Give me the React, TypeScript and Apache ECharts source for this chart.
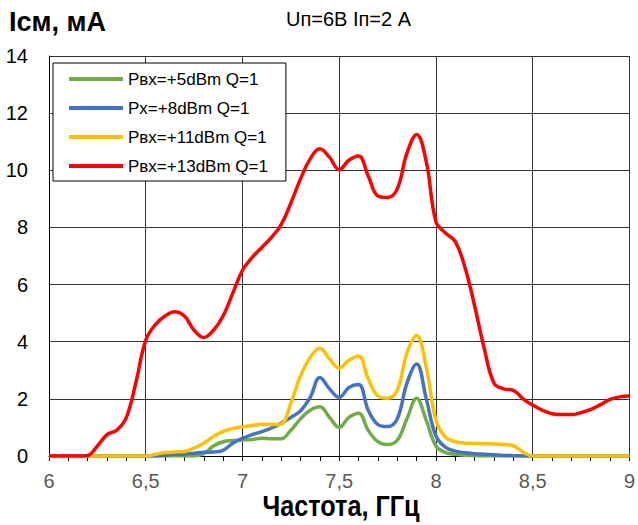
import React, { useEffect, useRef } from "react";
import * as echarts from "echarts";

const freqs: number[] = [
  6.0, 6.05, 6.1, 6.15, 6.2, 6.25, 6.3, 6.35, 6.4, 6.45,
  6.5, 6.55, 6.6, 6.65, 6.7, 6.75, 6.8, 6.85, 6.9, 6.95,
  7.0, 7.05, 7.1, 7.15, 7.2, 7.25, 7.3, 7.35, 7.4, 7.45,
  7.5, 7.55, 7.6, 7.65, 7.7, 7.75, 7.8, 7.85, 7.9, 7.95,
  8.0, 8.05, 8.1, 8.15, 8.2, 8.25, 8.3, 8.35, 8.4, 8.45,
  8.5, 8.55, 8.6, 8.65, 8.7, 8.75, 8.8, 8.85, 8.9, 8.95, 9.0,
];

const green5: number[] = [
  0, 0, 0, 0, 0, 0, 0, 0, 0, 0,
  0, 0, 0, 0, 0, 0, 0.08, 0.35, 0.5, 0.54,
  0.56, 0.58, 0.62, 0.6, 0.6, 0.9, 1.3, 1.6, 1.72, 1.35,
  1.0, 1.35, 1.5, 0.9, 0.5, 0.4, 0.55, 1.3, 2.02, 1.25,
  0.35, 0.12, 0.06, 0.03, 0.01, 0, 0, 0, 0, 0,
  0, 0, 0, 0, 0, 0, 0, 0, 0, 0, 0,
];

const blue8: number[] = [
  0, 0, 0, 0, 0, 0, 0, 0, 0, 0,
  0, 0, 0.03, 0.06, 0.07, 0.1, 0.13, 0.14, 0.2, 0.45,
  0.62, 0.75, 0.85, 0.98, 1.15, 1.35, 1.58, 2.05, 2.75, 2.35,
  2.05, 2.4, 2.5, 1.6, 1.1, 1.03, 1.3, 2.55, 3.22, 2.0,
  0.7, 0.3, 0.17, 0.11, 0.08, 0.06, 0.04, 0.02, 0.01, 0,
  0, 0, 0, 0, 0, 0, 0, 0, 0, 0, 0,
];

const yellow11: number[] = [
  0, 0, 0, 0, 0, 0, 0, 0, 0, 0,
  0, 0.06, 0.12, 0.14, 0.16, 0.28, 0.45, 0.68, 0.86, 0.96,
  1.02, 1.07, 1.11, 1.1, 1.12, 1.85, 2.8, 3.45, 3.77, 3.4,
  3.07, 3.35, 3.5, 2.7, 2.1, 2.02, 2.3, 3.6, 4.22, 3.1,
  1.25, 0.65, 0.5, 0.45, 0.44, 0.43, 0.42, 0.4, 0.36, 0.14,
  0, 0, 0, 0, 0, 0, 0, 0, 0, 0, 0,
];

const red13: number[] = [
  0, 0, 0, 0, 0.02, 0.35, 0.75, 0.9, 1.35, 2.6,
  4.05, 4.6, 4.9, 5.05, 4.9, 4.4, 4.15, 4.4, 4.9, 5.7,
  6.5, 6.95, 7.3, 7.65, 8.1, 8.85, 9.7, 10.4, 10.75, 10.45,
  10.02, 10.35, 10.5, 9.8, 9.1, 9.05, 9.35, 10.6, 11.25, 10.3,
  8.2, 7.8, 7.5, 6.6, 5.25, 3.75, 2.55, 2.35, 2.3, 2.0,
  1.78, 1.6, 1.48, 1.45, 1.45, 1.52, 1.63, 1.8, 1.98, 2.07, 2.1,
];

const seriesNames: string[] = [
  "Pвх=+5dBm Q=1",
  "Px=+8dBm Q=1",
  "Pвх=+11dBm Q=1",
  "Pвх=+13dBm Q=1",
];
const seriesColors: string[] = ["#70AD47", "#4472C4", "#FFC000", "#FF0000"];
const seriesValues: number[][] = [green5, blue8, yellow11, red13];

const yTitle = "Iсм, мА";
const chartTitle = "Uп=6В Iп=2 А";
const xTitle = "Частота, ГГц";

const FONT = "'Liberation Sans', Arial, sans-serif";
const NARROW = "'Liberation Sans Narrow', 'Arial Narrow', 'Liberation Sans', sans-serif";

export default function App() {
  const ref = useRef<HTMLDivElement>(null);
  useEffect(() => {
    if (!ref.current) return;
    const chart = echarts.init(ref.current, undefined, { renderer: "svg" });
    chart.setOption({
      animation: false,
      backgroundColor: "#ffffff",
      textStyle: { fontFamily: FONT },
      title: {
        text: chartTitle,
        left: 286,
        top: 9,
        padding: 0,
        textStyle: {
          fontSize: 20,
          fontWeight: "normal",
          color: "#000",
          fontFamily: FONT,
        },
      },
      grid: { left: 49, right: 4, top: 56, bottom: 69, containLabel: false },
      legend: {
        orient: "vertical",
        left: 53,
        top: 63,
        padding: [6, 18, 5, 16],
        borderColor: "#000",
        borderWidth: 1,
        backgroundColor: "#fff",
        icon: "rect",
        itemWidth: 54,
        itemHeight: 4,
        itemGap: 9,
        textStyle: { fontSize: 17, color: "#000", fontFamily: FONT, lineHeight: 20 },
        data: seriesNames,
      },
      xAxis: {
        type: "value",
        min: 6,
        max: 9,
        interval: 0.5,
        axisLine: { show: true, lineStyle: { color: "#000", width: 1 } },
        axisTick: { show: true, length: 5, lineStyle: { color: "#000" } },
        minorTick: { show: true, splitNumber: 5, length: 5, lineStyle: { color: "#000" } },
        splitLine: { show: true, lineStyle: { color: "#333", width: 1 } },
        axisLabel: {
          fontSize: 20,
          color: "#595959",
          margin: 15,
          fontFamily: NARROW,
          formatter: (v: number) => String(v).replace(".", ","),
        },
      },
      yAxis: {
        type: "value",
        min: 0,
        max: 14,
        interval: 2,
        axisLine: { show: true, lineStyle: { color: "#000", width: 1 } },
        axisTick: { show: false },
        splitLine: { show: true, lineStyle: { color: "#333", width: 1 } },
        axisLabel: { fontSize: 20, color: "#000", margin: 21, fontFamily: FONT },
      },
      graphic: [
        {
          type: "text",
          x: 9,
          y: 22,
          style: {
            text: yTitle,
            fontSize: 27,
            fontWeight: "bold",
            fontFamily: FONT,
            fill: "#000",
            textAlign: "left",
            textVerticalAlign: "middle",
          },
        },
        {
          type: "text",
          x: 341,
          y: 506,
          scaleX: 0.87,
          style: {
            text: xTitle,
            fontSize: 29,
            fontWeight: "bold",
            fontFamily: FONT,
            fill: "#000",
            textAlign: "center",
            textVerticalAlign: "middle",
          },
        },
      ],
      series: seriesNames.map((name, i) => ({
        name,
        type: "line",
        smooth: 0.4,
        showSymbol: false,
        symbol: "none",
        color: seriesColors[i],
        lineStyle: { width: 3.5, color: seriesColors[i] },
        data: freqs.map((f, j) => [f, seriesValues[i][j]]),
        z: 2 + i,
      })),
    });
    return () => chart.dispose();
  }, []);
  return (
    <div
      ref={ref}
      style={{ position: "fixed", left: 0, top: 0, width: 638, height: 525, background: "#fff" }}
    />
  );
}
